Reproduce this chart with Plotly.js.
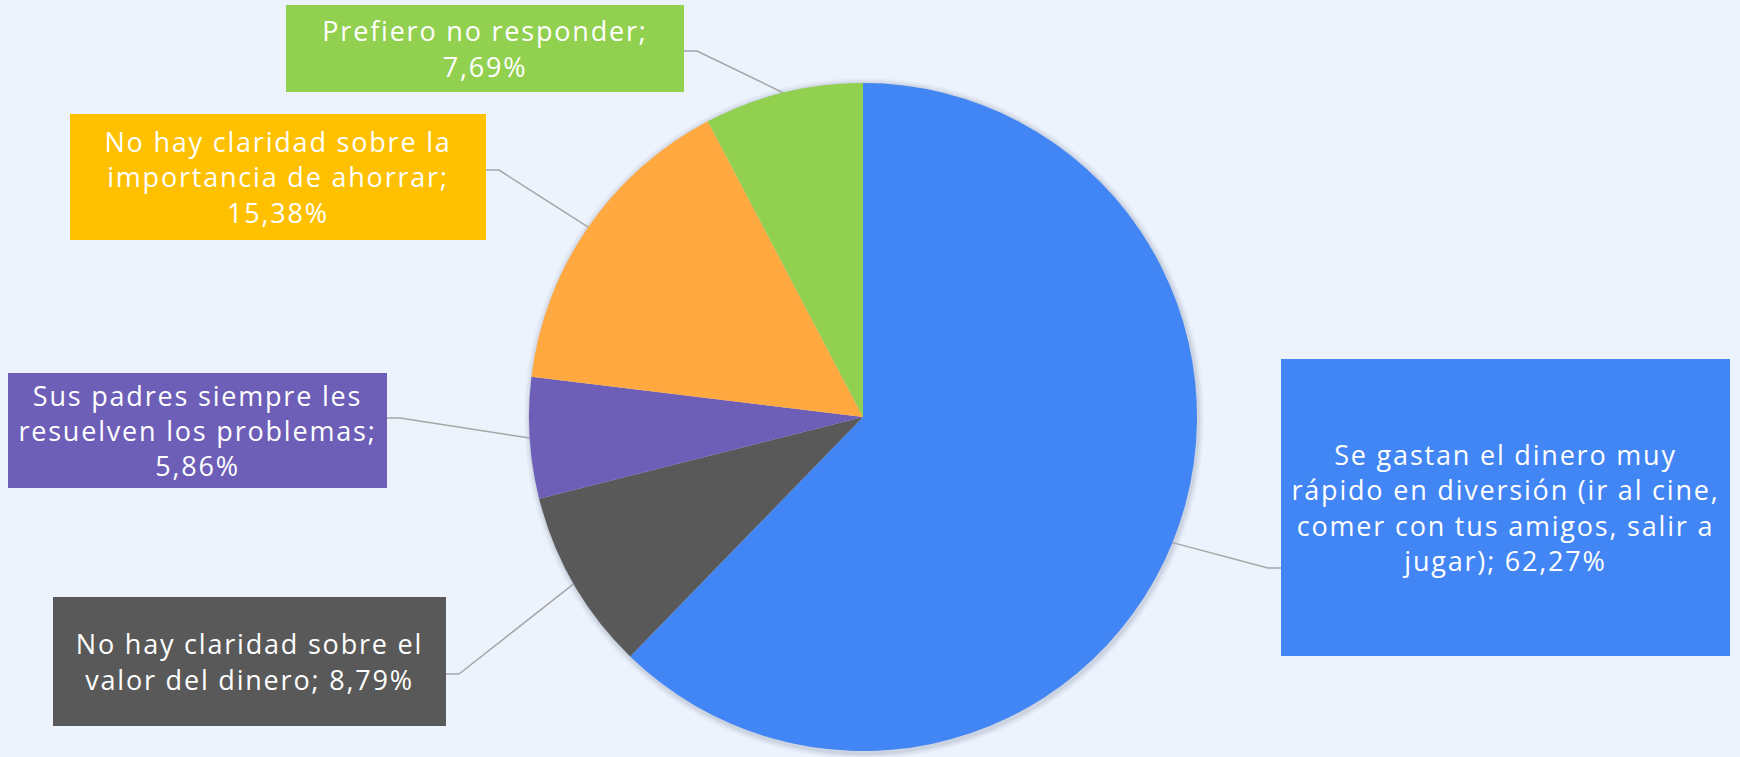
<!DOCTYPE html>
<html>
<head>
<meta charset="utf-8">
<script src="https://cdn.plot.ly/plotly-3.0.1.min.js"></script>
<style>
  html, body { margin: 0; padding: 0; background: #EDF3FD; }
  #chart { width: 1740px; height: 757px; }
  #chart .annotation-text { letter-spacing: 1.8px; }
</style>
</head>
<body>
<div id="chart"></div>
<script>
// ---- Data ----
const categories = [
  "Se gastan el dinero muy rápido en diversión (ir al cine, comer con tus amigos, salir a jugar)",
  "No hay claridad sobre el valor del dinero",
  "Sus padres siempre les resuelven los problemas",
  "No hay claridad sobre la importancia de ahorrar",
  "Prefiero no responder"
];
const labelLines = [
  ["Se gastan el dinero muy", "rápido en diversión (ir al cine,", "comer con tus amigos, salir a", "jugar); "],
  ["No hay claridad sobre el", "valor del dinero; "],
  ["Sus padres siempre les", "resuelven los problemas;", ""],
  ["No hay claridad sobre la", "importancia de ahorrar;", ""],
  ["Prefiero no responder;", ""]
];
const values = [62.27, 8.79, 5.86, 15.38, 7.69];
const sliceColors = ["#4285F4", "#595959", "#6D5EB8", "#FFA940", "#92D050"];
const boxColors   = ["#4285F4", "#595959", "#6D5EB8", "#FFC000", "#92D050"];

// ---- Layout geometry (pixels) ----
const W = 1740, H = 757;
const cx = 863, cy = 417, R = 334;
// label boxes: [left, top, right, bottom], leader y, side
const boxes = [
  {l: 1281, t: 359, r: 1730, b: 656, ly: 568, side: "left"},
  {l: 53,   t: 597, r: 446,  b: 726, ly: 674, side: "right"},
  {l: 8,    t: 373, r: 387,  b: 488, ly: 418, side: "right"},
  {l: 70,   t: 114, r: 486,  b: 240, ly: 170, side: "right"},
  {l: 286,  t: 5,   r: 684,  b: 92,  ly: 51,  side: "right"}
];

const fmt = v => v.toFixed(2).replace('.', ',') + '%';
const px = x => x / W;
const py = y => 1 - y / H;

const total = values.reduce((a, b) => a + b, 0);
let cum = 0;
const shapes = [];
const annotations = [];

// soft shadow behind pie
[[6, 0.04], [4, 0.06], [2, 0.09]].forEach(([d, a]) => {
  shapes.push({
    type: 'circle', xref: 'paper', yref: 'paper', layer: 'below',
    x0: px(cx - R - d + 1), x1: px(cx + R + d + 1),
    y0: py(cy + R + d + 2), y1: py(cy - R - d + 1),
    fillcolor: 'rgba(60,70,100,' + a + ')', line: {width: 0}
  });
});

values.forEach((v, i) => {
  const mid = (cum + v / 2) / total;
  cum += v;
  const ang = 2 * Math.PI * mid;
  const ex = cx + R * Math.sin(ang);
  const ey = cy - R * Math.cos(ang);
  const b = boxes[i];
  const edgeX = b.side === 'right' ? b.r : b.l;
  const kinkX = b.side === 'right' ? b.r + 13 : b.l - 13;
  shapes.push({type: 'line', xref: 'paper', yref: 'paper', layer: 'below',
    x0: px(edgeX), y0: py(b.ly), x1: px(kinkX), y1: py(b.ly),
    line: {color: '#A6A6A6', width: 1.5}});
  shapes.push({type: 'line', xref: 'paper', yref: 'paper', layer: 'below',
    x0: px(kinkX), y0: py(b.ly), x1: px(ex), y1: py(ey),
    line: {color: '#A6A6A6', width: 1.5}});

  const lines = labelLines[i].slice();
  lines[lines.length - 1] = lines[lines.length - 1] + fmt(v);
  annotations.push({
    xref: 'paper', yref: 'paper',
    x: px(b.l), y: py(b.t), xanchor: 'left', yanchor: 'top',
    width: b.r - b.l, height: b.b - b.t,
    text: lines.join('<br>'),
    showarrow: false, align: 'center', valign: 'middle',
    bgcolor: boxColors[i], borderpad: 0, borderwidth: 0,
    font: {family: 'Open Sans, sans-serif', size: 27, color: '#FFFFFF'}
  });
});

const trace = {
  type: 'pie',
  labels: categories,
  values: values,
  sort: false,
  direction: 'clockwise',
  rotation: 0,
  marker: {colors: sliceColors, line: {width: 0}},
  textinfo: 'none',
  hoverinfo: 'none',
  showlegend: false,
  domain: {x: [px(cx - R), px(cx + R)], y: [py(cy + R), py(cy - R)]}
};

const layout = {
  width: W, height: H,
  margin: {l: 0, r: 0, t: 0, b: 0},
  paper_bgcolor: '#EDF3FD',
  plot_bgcolor: '#EDF3FD',
  showlegend: false,
  shapes: shapes,
  annotations: annotations
};

Plotly.newPlot('chart', [trace], layout, {displayModeBar: false, staticPlot: true});
</script>
</body>
</html>
